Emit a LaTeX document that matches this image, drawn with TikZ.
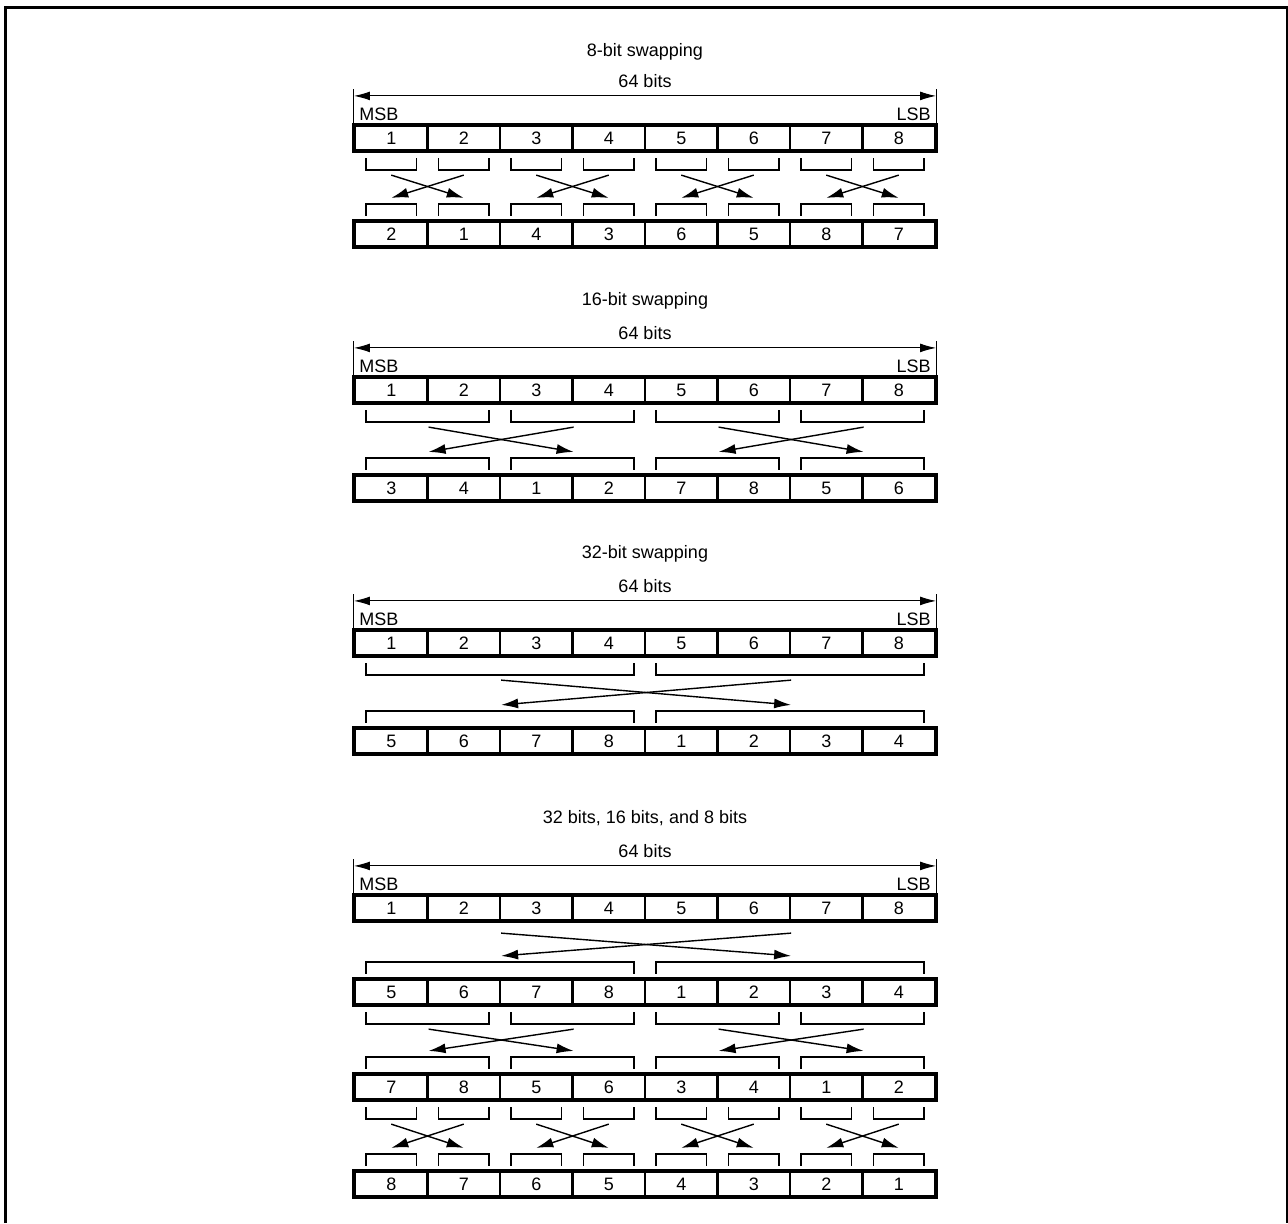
\documentclass[tikz,border=0pt]{standalone}
\usepackage{fontspec}
\setmainfont{Liberation Sans}
\usepackage{tikz}
\usetikzlibrary{arrows.meta, calc}

\tikzset{
    case/.style={draw, line width=1.1pt, minimum width=36.25pt, minimum height=12pt, inner sep=0pt, font=\small},
    bord/.style={line width=1.5pt},
    crochet/.style={line width=0.65pt},
    fleche/.style={line width=0.7pt, -{Latex[length=8.5pt, width=5pt]}},
    cote/.style={line width=0.5pt, {Latex[length=8pt, width=4.4pt]}-{Latex[length=8pt, width=4.4pt]}},
    texte/.style={font=\small, inner sep=0pt}
}

% Rangée de 8 cases : nom, haut, valeurs
\newcommand{\rangee}[3]{
    \foreach \v [count=\i] in {#3}
        \node[case] (#1\i) at (318.75+72.5*\i, #2+12) {\v};
    \draw[bord] (#11.north west) rectangle (#18.south east);
}

% Titre, cote 64 bits, MSB / LSB : rangée, ligne de base du titre, titre
\newcommand{\entete}[3]{
    \coordinate (#1g) at ($(#11.north west)+(0,-29)$);
    \coordinate (#1d) at ($(#18.north east)+(0,-29)$);
    \draw[line width=0.5pt] (#11.north west) -- ++(0,-36);
    \draw[line width=0.5pt] (#18.north east) -- ++(0,-36);
    \draw[cote] (#1g) -- (#1d);
    \node[texte, anchor=base] (#1bits) at ($(#1g)!0.5!(#1d)+(0,-8)$) {64 bits};
    \node[texte, anchor=west] (#1msb) at ($(#11.north west)+(5,-11)$) {MSB};
    \node[texte, anchor=east] (#1lsb) at ($(#18.north east)+(-5,-11)$) {LSB};
    \node[texte, anchor=base] (#1titre) at (645, #2) {#3};
}

% Crochets : rangée, première case, dernière case
\newcommand{\crochetbas}[3]{\draw[crochet] ($(#1#2.south west)+(12,7)$) -- ++(0,12) -| ($(#1#3.south east)+(-12,7)$);}
\newcommand{\crochethaut}[3]{\draw[crochet] ($(#1#2.north west)+(12,-5)$) -- ++(0,-12) -| ($(#1#3.north east)+(-12,-5)$);}

% Flèche d'échange : départ, arrivée
\newcommand{\permute}[3][24]{\draw[fleche] ($(#2)+(0,#1)$) -- ($(#3)+(0,-23)$);}

\begin{document}
\begin{tikzpicture}[x=0.5pt, y=-0.5pt]
    \useasboundingbox (0,0) rectangle (1288,1223);

    % Cadre
    \draw[line width=1.5pt] (5,1223) -- (5,7) -- (1287,7) -- (1287,1223);

    % Échange 8 bits
    \rangee{a}{126}{1,2,3,4,5,6,7,8}
    \rangee{b}{222}{2,1,4,3,6,5,8,7}
    \entete{a}{56}{8-bit swapping}
    \foreach \i in {1,...,8} {
        \crochetbas{a}{\i}{\i}
        \crochethaut{b}{\i}{\i}
    }
    \foreach \i/\j in {1/2,2/1,3/4,4/3,5/6,6/5,7/8,8/7} {
        \permute{a\i.south}{b\j.north}
    }

    % Échange 16 bits
    \rangee{c}{378}{1,2,3,4,5,6,7,8}
    \rangee{d}{476}{3,4,1,2,7,8,5,6}
    \entete{c}{305}{16-bit swapping}
    \foreach \i/\j in {1/2,3/4,5/6,7/8} {
        \crochetbas{c}{\i}{\j}
        \crochethaut{d}{\i}{\j}
    }
    \foreach \i/\j in {1/3,3/1,5/7,7/5} {
        \permute{c\i.south east}{d\j.north east}
    }

    % Échange 32 bits
    \rangee{e}{631}{1,2,3,4,5,6,7,8}
    \rangee{f}{729}{5,6,7,8,1,2,3,4}
    \entete{e}{558}{32-bit swapping}
    \foreach \i/\j in {1/4,5/8} {
        \crochetbas{e}{\i}{\j}
        \crochethaut{f}{\i}{\j}
    }
    \foreach \i/\j in {2/6,6/2} {
        \permute{e\i.south east}{f\j.north east}
    }

    % 32, 16 et 8 bits
    \rangee{g}{896}{1,2,3,4,5,6,7,8}
    \rangee{h}{980}{5,6,7,8,1,2,3,4}
    \rangee{k}{1075}{7,8,5,6,3,4,1,2}
    \rangee{m}{1172}{8,7,6,5,4,3,2,1}
    \entete{g}{823}{32 bits, 16 bits, and 8 bits}
    \foreach \i/\j in {1/4,5/8} {
        \crochethaut{h}{\i}{\j}
    }
    \foreach \i/\j in {2/6,6/2} {
        \permute[12]{g\i.south east}{h\j.north east}
    }
    \foreach \i/\j in {1/2,3/4,5/6,7/8} {
        \crochetbas{h}{\i}{\j}
        \crochethaut{k}{\i}{\j}
    }
    \foreach \i/\j in {1/3,3/1,5/7,7/5} {
        \permute{h\i.south east}{k\j.north east}
    }
    \foreach \i in {1,...,8} {
        \crochetbas{k}{\i}{\i}
        \crochethaut{m}{\i}{\i}
    }
    \foreach \i/\j in {1/2,2/1,3/4,4/3,5/6,6/5,7/8,8/7} {
        \permute{k\i.south}{m\j.north}
    }
\end{tikzpicture}
\end{document}
